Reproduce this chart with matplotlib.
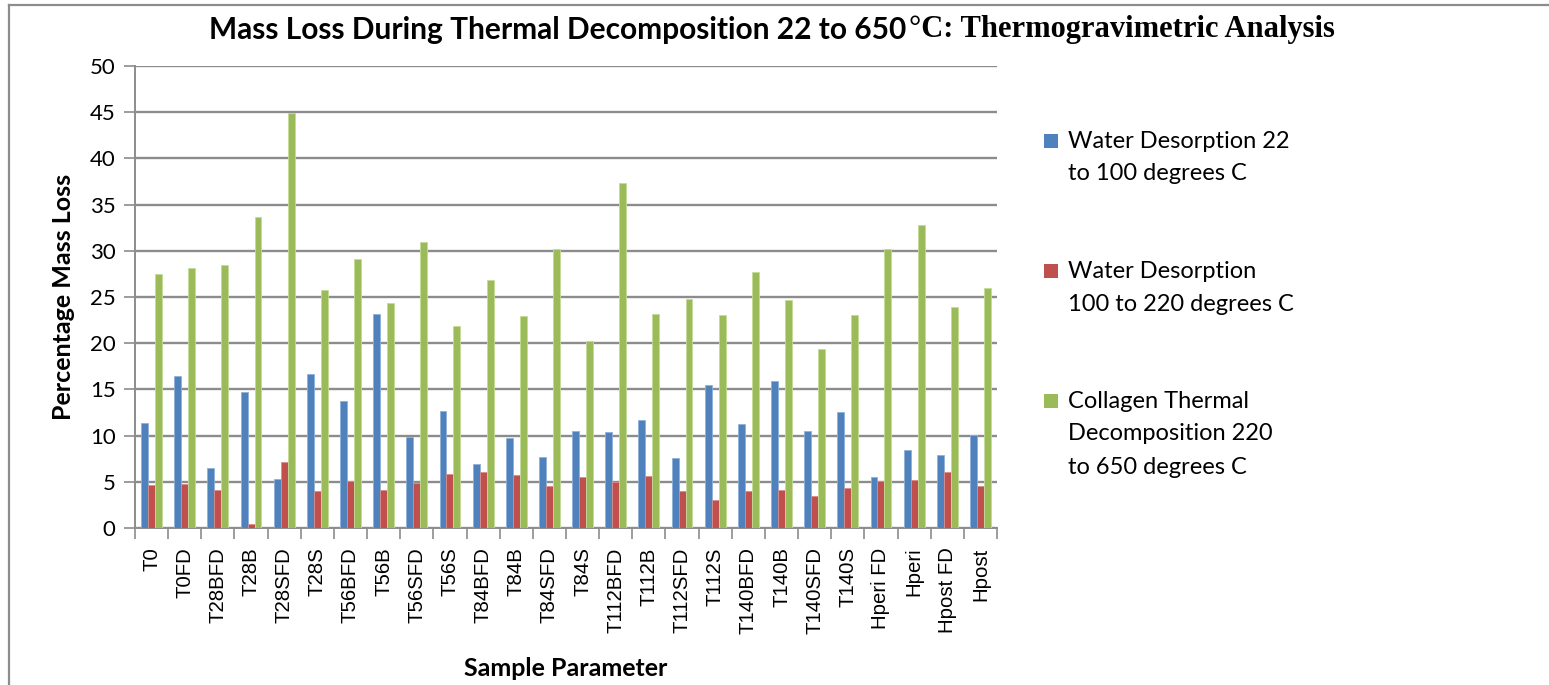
import matplotlib
matplotlib.use("Agg")
import matplotlib.pyplot as plt
import numpy as np
from matplotlib.patches import Rectangle
from matplotlib.lines import Line2D

# --------------------------------------------------------------------------- #
# data
# --------------------------------------------------------------------------- #
samples = ["T0", "T0FD", "T28BFD", "T28B", "T28SFD", "T28S", "T56BFD", "T56B",
           "T56SFD", "T56S", "T84BFD", "T84B", "T84SFD", "T84S", "T112BFD",
           "T112B", "T112SFD", "T112S", "T140BFD", "T140B", "T140SFD", "T140S",
           "Hperi FD", "Hperi", "Hpost FD", "Hpost"]

water_22_100 = [11.4, 16.5, 6.5, 14.7, 5.3, 16.7, 13.7, 23.2, 9.8, 12.7, 6.9,
                9.7, 7.7, 10.5, 10.4, 11.7, 7.6, 15.5, 11.3, 15.9, 10.5, 12.6,
                5.5, 8.4, 7.9, 10.1]
water_100_220 = [4.7, 4.8, 4.1, 0.4, 7.1, 4.0, 5.1, 4.1, 4.9, 5.8, 6.1, 5.7,
                 4.5, 5.5, 5.0, 5.6, 4.0, 3.0, 4.0, 4.1, 3.5, 4.3, 5.1, 5.2,
                 6.1, 4.5]
collagen_220_650 = [27.5, 28.1, 28.5, 33.7, 44.9, 25.8, 29.1, 24.4, 31.0, 21.9,
                    26.8, 22.9, 30.2, 20.2, 37.3, 23.2, 24.8, 23.1, 27.7, 24.7,
                    19.4, 23.0, 30.2, 32.8, 23.9, 26.0]

series_labels = ["Water Desorption 22\nto 100 degrees C",
                 "Water Desorption\n100 to 220 degrees C",
                 "Collagen Thermal\nDecomposition 220\nto 650 degrees C"]

COLORS = ["#4F81BD", "#C0504D", "#9BBB59"]
EDGES = ["#8FB0DA", "#DA8C8A", "#C4DB98"]
GRID = "#8C8C8C"
SANS = "Lato"

W, H = 1549, 685
fig = plt.figure(figsize=(W / 100, H / 100), dpi=100)
ax = fig.add_axes([135 / W, 1 - 528 / H, (997 - 135) / W, (528 - 66) / H])

x = np.arange(len(samples))
bw = 0.21
for k, vals in enumerate([water_22_100, water_100_220, collagen_220_650]):
    ax.bar(x + (k - 1) * bw, vals, width=bw, color=COLORS[k],
           edgecolor=EDGES[k], linewidth=0.6, zorder=3)

ax.set_xlim(-0.5, len(samples) - 0.5)
ax.set_ylim(0, 50)
ax.set_yticks(range(0, 51, 5))
ax.yaxis.grid(True, color=GRID, lw=1.7, zorder=0)

ax.set_xticks(x)
ax.set_xticklabels(samples, rotation=90, fontsize=14.7, family="Liberation Sans")
ax.set_xticks(np.arange(-0.5, len(samples), 1.0), minor=True)
ax.tick_params(axis="x", which="major", length=0, pad=14)
ax.tick_params(axis="x", which="minor", length=8, width=1.2, color=GRID)
ax.tick_params(axis="y", length=8, width=1.2, color=GRID, pad=6)
for t in ax.get_yticklabels():
    t.set_fontsize(16)
    t.set_family(SANS)

for s in ("top", "right"):
    ax.spines[s].set_visible(False)
for s in ("left", "bottom"):
    ax.spines[s].set_color(GRID)
    ax.spines[s].set_linewidth(1.4)

ax.set_ylabel("Percentage Mass Loss", fontsize=18, fontweight="bold",
              family=SANS, labelpad=11)
fig.text(566 / W, 1 - 668 / H, "Sample Parameter", fontsize=18,
         fontweight="bold", family=SANS, ha="center", va="center")

# legend, drawn by hand so each square sits on the first text line
leg_top = [141, 271, 401]     # pixel y of first line of each entry
line_h = 33
for c, lab, y0 in zip(COLORS, series_labels, leg_top):
    fig.add_artist(Rectangle((1044 / W, 1 - (y0 + 7) / H), 14 / W, 14 / H,
                             transform=fig.transFigure, facecolor=c,
                             edgecolor="none"))
    for i, line in enumerate(lab.split("\n")):
        fig.text(1068 / W, 1 - (y0 + i * line_h) / H, line, fontsize=17,
                 family=SANS, va="center", ha="left")

# title: sans part + serif part, centred together
renderer = fig.canvas.get_renderer()
part1 = "Mass Loss During Thermal Decomposition 22 to 650"
part2 = "\u00b0C: Thermogravimetric Analysis"
t1 = fig.text(0, 1 - 30 / H, part1, fontsize=21.5, fontweight="bold",
              family=SANS, va="center")
t2 = fig.text(0, 1 - 30 / H, part2, fontsize=22, fontweight="bold",
              family="Liberation Serif", va="center")
w1 = t1.get_window_extent(renderer).width
w2 = t2.get_window_extent(renderer).width
x0 = 771 - (w1 + w2) / 2
t1.set_x(x0 / W)
t2.set_x((x0 + w1 + 2) / W)

# outer frame (top and left edges only visible in the reference)
fig.add_artist(Line2D([9 / W, 9 / W], [0, 1 - 5 / H], transform=fig.transFigure,
                      color=GRID, lw=1.6))
fig.add_artist(Line2D([9 / W, 1], [1 - 5 / H, 1 - 5 / H],
                      transform=fig.transFigure, color=GRID, lw=1.6))

fig.savefig("out.png", dpi=100)
